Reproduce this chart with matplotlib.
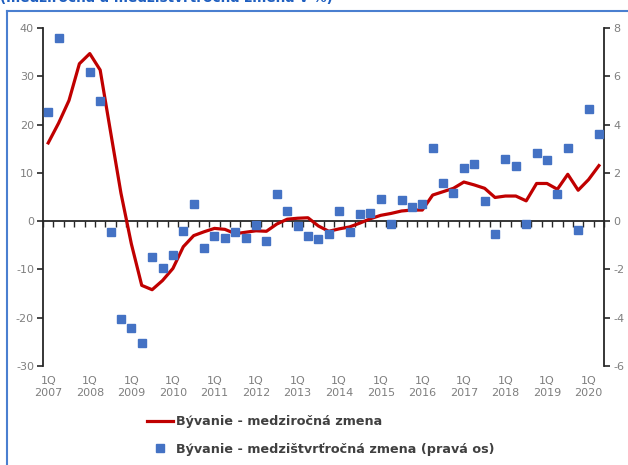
import numpy as np
import matplotlib.pyplot as plt
from matplotlib.lines import Line2D

plt.rcParams['axes.unicode_minus'] = False

# quarters 2007Q1 .. 2020Q2
years = list(range(2007, 2021))
quarters = [f"{y}Q{q}" for y in years for q in range(1, 5)][:54]
year_labels = [f"1Q\n{y}" for y in years]

# Bývanie - medziročná zmena (left axis, %)
yoy = [16.2, 20.3, 25.0, 32.6, 34.7, 31.3, 18.5, 5.8, -4.7, -13.3,
       -14.2, -12.3, -9.8, -5.3, -3.0, -2.2, -1.5, -1.7, -2.6, -2.3,
       -2.0, -2.1, -0.6, 0.4, 0.6, 0.7, -1.0, -2.1, -1.6, -1.2,
       -0.4, 0.5, 1.2, 1.6, 2.1, 2.3, 2.3, 5.4, 6.1, 6.8,
       8.1, 7.5, 6.8, 4.9, 5.2, 5.2, 4.2, 7.8, 7.8, 6.6,
       9.7, 6.4, 8.6, 11.5]

# Bývanie - medzištvrťročná zmena (right axis, %); 2007Q3-Q4 fall outside the axis range
qoq = [4.53, 7.6, np.nan, np.nan, 6.16, 4.96, -0.44, -4.07, -4.42, -5.04,
       -1.48, -1.95, -1.41, -0.41, 0.73, -1.13, -0.61, -0.68, -0.46, -0.70,
       -0.17, -0.81, 1.12, 0.41, -0.22, -0.62, -0.74, -0.55, 0.42, -0.45,
       0.30, 0.35, 0.91, -0.10, 0.86, 0.59, 0.73, 3.02, 1.57, 1.16,
       2.19, 2.35, 0.83, -0.55, 2.57, 2.28, -0.12, 2.83, 2.54, 1.13,
       3.02, -0.35, 4.64, 3.62]

x = np.arange(len(quarters))
grey = '#7f7f7f'
dark = '#262626'

fig = plt.figure(figsize=(6.28, 4.65), dpi=100)
ax = fig.add_axes([0.0685, 0.2129, 0.8935, 0.7269])
ax2 = ax.twinx()

ax.plot(x, yoy, color='#c00000', lw=2.3, zorder=3)
ax2.plot(x, qoq, ls='none', marker='s', ms=6, color='#4472c4', zorder=4)

ax.set_xlim(-0.5, len(quarters) - 0.5)
ax.set_ylim(-30, 40)
ax2.set_ylim(-6, 8)
ax.set_yticks(range(-30, 41, 10))
ax2.set_yticks(range(-6, 9, 2))

# zero line with a tick at every quarter boundary
ax.spines['bottom'].set_position(('data', 0))
ax.spines['bottom'].set_color(dark)
ax.spines['bottom'].set_linewidth(1.3)
ax.set_xticks(np.arange(-0.5, len(quarters), 1))
ax.tick_params(axis='x', length=4, width=1, color=dark, direction='out', labelbottom=False)

# year labels at the bottom of the plot
sec = ax.secondary_xaxis('bottom')
sec.set_xticks(x[::4], year_labels)
sec.spines['bottom'].set_visible(False)
sec.tick_params(length=0, pad=7, labelsize=8, labelcolor=grey)
for t in sec.get_xticklabels():
    t.set_linespacing(1.3)

for a in (ax, ax2):
    a.spines['top'].set_visible(False)
ax.spines['right'].set_visible(False)
ax2.spines['bottom'].set_visible(False)
ax2.spines['left'].set_visible(False)
ax.spines['left'].set_color(dark)
ax2.spines['right'].set_color(dark)
ax.spines['left'].set_linewidth(1.3)
ax2.spines['right'].set_linewidth(1.3)
ax.tick_params(axis='y', length=4, width=1.2, color=dark, pad=2.5, labelsize=8, labelcolor=grey)
ax2.tick_params(axis='y', length=4, width=1.2, color=dark, pad=2.5, labelsize=8, labelcolor=grey)

# frame of the original box, cut at right and bottom
fig.add_artist(Line2D([7 / 628, 7 / 628], [0, 1 - 11 / 465], color='#4a7fd0', lw=1.5))
fig.add_artist(Line2D([7 / 628, 1], [1 - 11 / 465, 1 - 11 / 465], color='#4a7fd0', lw=1.5))

fig.text(0.0, 1.0 + 2 / 465, '(medziročná a medzištvrťročná zmena v %)',
         ha='left', va='center', fontsize=9.8, fontweight='bold', color='#1f5fc0')

handles = [Line2D([], [], color='#c00000', lw=2.3),
           Line2D([], [], ls='none', marker='s', ms=6, color='#4472c4')]
labels = ['Bývanie - medziročná zmena', 'Bývanie - medzištvrťročná zmena (pravá os)']
fig.legend(handles, labels, loc='upper left', bbox_to_anchor=(147 / 628, 1 - 415 / 465),
           frameon=False, borderpad=0, borderaxespad=0, handlelength=2.0,
           handletextpad=0.3, labelspacing=1.15,
           prop={'size': 9.2, 'weight': 'bold'}, labelcolor='#404040')

fig.savefig('out.png', dpi=100)
